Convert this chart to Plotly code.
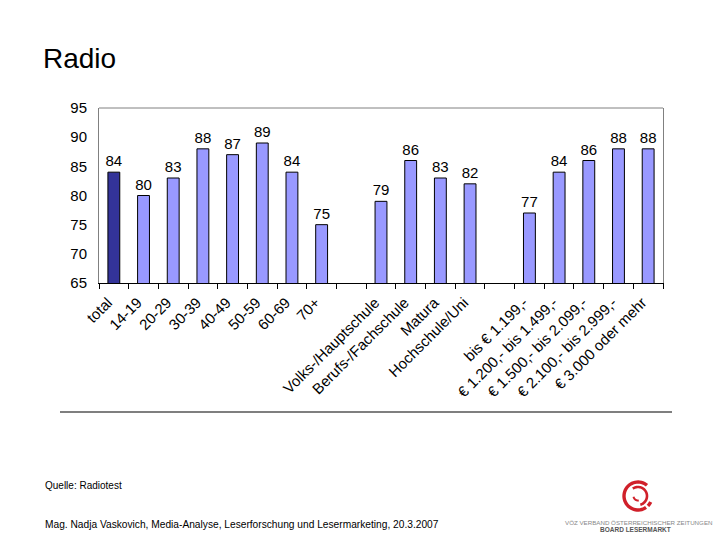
import numpy as np
import plotly.graph_objects as go

categories = ["total", "14-19", "20-29", "30-39", "40-49", "50-59", "60-69", "70+", " ",
              "Volks-/Hauptschule", "Berufs-/Fachschule", "Matura", "Hochschule/Uni", "  ",
              "bis € 1.199,-", "€ 1.200,- bis 1.499,-", "€ 1.500,- bis 2.099,-",
              "€ 2.100,- bis 2.999,-", "€ 3.000 oder mehr"]
values = [84, 80, 83, 88, 87, 89, 84, 75, None,
          79, 86, 83, 82, None,
          77, 84, 86, 88, 88]
highlight = ["total"]

W, H = 720, 540
L, R, T, B = 99, 663, 108, 283

def px(x):
    return (x - L) / (R - L)

def py(y):
    return (B - y) / (B - T)

colors = ["#333399" if c in highlight else "#9999FF" for c in categories]
texts = ["" if v is None else str(v) for v in values]

fig = go.Figure(go.Bar(
    x=categories, y=values,
    marker=dict(color=colors, line=dict(color="black", width=1)),
    width=0.4,
    text=texts, textposition="outside", cliponaxis=False, constraintext="none",
    textfont=dict(family="Liberation Sans, Arial", size=15, color="black"),
    hoverinfo="skip",
))

fig.update_layout(
    width=W, height=H,
    margin=dict(l=L, r=W - R, t=T, b=H - B, autoexpand=False),
    paper_bgcolor="white", plot_bgcolor="white",
    showlegend=False,
    font=dict(family="Liberation Sans, Arial", color="black"),
    title=dict(text="Radio", x=43 / W, xanchor="left", y=1 - 58 / H, yanchor="middle",
               font=dict(family="Liberation Sans, Arial", size=28, color="black")),
)
fig.update_xaxes(
    type="category", tickangle=-45, tickson="boundaries", ticks="outside", ticklen=5,
    tickcolor="black", showline=True, linecolor="black", linewidth=1,
    tickfont=dict(size=15, color="black"), showgrid=False, ticklabelshift=-6,
    ticklabelstandoff=4,
)
fig.update_yaxes(
    range=[65, 95], dtick=5, showgrid=False, showline=True, linecolor="#808080",
    mirror=True, ticks="", tickfont=dict(size=15, color="black"), ticklabelstandoff=8,
    zeroline=False,
)
# top frame line
fig.add_shape(type="line", xref="paper", yref="paper", x0=0, x1=1, y0=1, y1=1,
              line=dict(color="#808080", width=1))
# separator line
fig.add_shape(type="line", xref="paper", yref="paper", x0=px(60), x1=px(672),
              y0=py(412), y1=py(412), line=dict(color="black", width=1.2))

fig.add_annotation(text="Quelle: Radiotest", xref="paper", yref="paper",
                   x=px(43), y=py(485), xanchor="left", yanchor="middle", showarrow=False,
                   font=dict(size=10, color="black"))
fig.add_annotation(text="Mag. Nadja Vaskovich, Media-Analyse, Leserforschung und Lesermarketing, 20.3.2007",
                   xref="paper", yref="paper",
                   x=px(43), y=py(524), xanchor="left", yanchor="middle", showarrow=False,
                   font=dict(size=10.2, color="black"))

# logo (decoration)
cx, cy = 638, 496
def arc_path(r, w, a0, a1):
    a = np.radians(np.linspace(a0, a1, 40))
    ro, ri = r + w / 2, r - w / 2
    pts_o = [(px(cx + ro * np.cos(t)), py(cy - ro * np.sin(t))) for t in a]
    pts_i = [(px(cx + ri * np.cos(t)), py(cy - ri * np.sin(t))) for t in a[::-1]]
    pts = pts_o + pts_i
    return "M " + " L ".join(f"{x:.5f},{y:.5f}" for x, y in pts) + " Z"

for r, w, a0, a1 in [(14, 3.4, 50, 305), (14, 3.4, 315, 335), (9, 2.6, 125, -75), (4.5, 2.0, 190, 280)]:
    fig.add_shape(type="path", xref="paper", yref="paper", path=arc_path(r, w, a0, a1),
                  fillcolor="#D0202A", line=dict(width=0))

fig.add_annotation(text="VÖZ VERBAND ÖSTERREICHISCHER ZEITUNGEN", xref="paper", yref="paper",
                   x=px(639), y=py(522), xanchor="center", yanchor="middle", showarrow=False,
                   font=dict(size=6.2, color="#888888"))
fig.add_annotation(text="<b>BOARD LESERMARKT</b>", xref="paper", yref="paper",
                   x=px(635), y=py(529), xanchor="center", yanchor="middle", showarrow=False,
                   font=dict(size=6.5, color="#555555"))

fig.write_html("out.html", config={"displayModeBar": False},
               post_script="document.body.style.margin='0';")
